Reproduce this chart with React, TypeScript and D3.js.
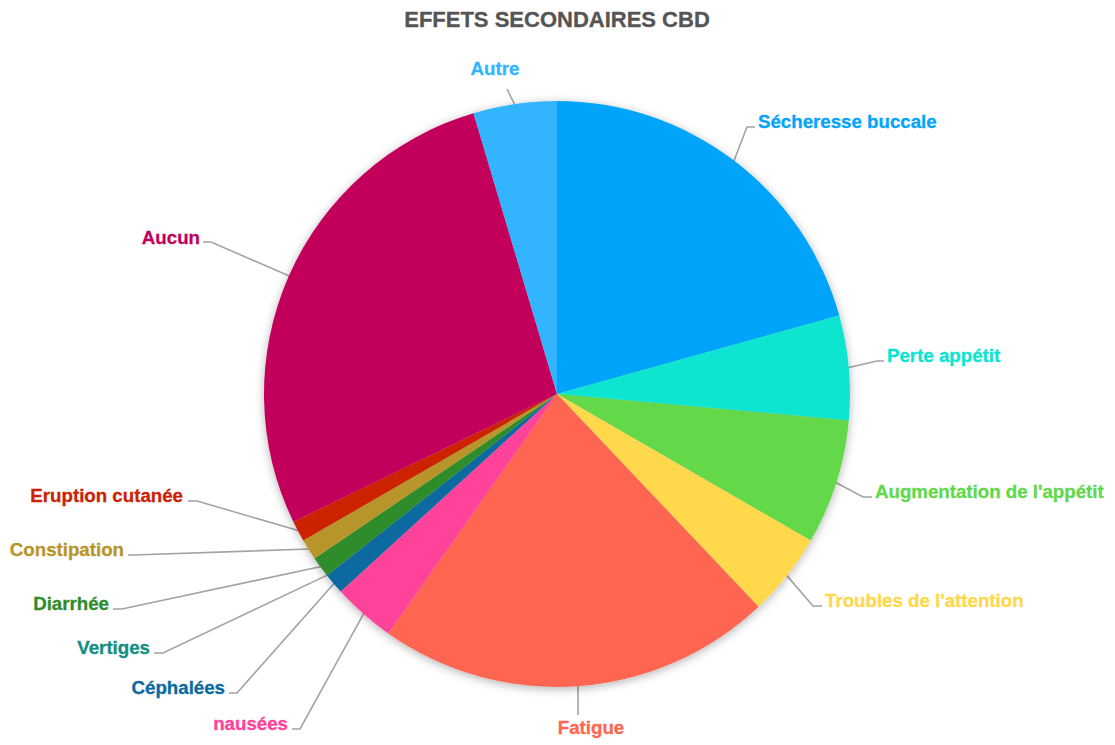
import { useMemo } from 'react';
import * as d3 from 'd3';

const categories = [
  'Sécheresse buccale',
  'Perte appétit',
  "Augmentation de l'appétit",
  "Troubles de l'attention",
  'Fatigue',
  'nausées',
  'Céphalées',
  'Vertiges',
  'Diarrhée',
  'Constipation',
  'Eruption cutanée',
  'Aucun',
  'Autre',
];
const values = [18, 5, 6, 4, 19, 3, 1, 0, 1, 1, 1, 24, 4];
const sliceColors = [
  '#04a5fb', '#0ae5d1', '#63d84a', '#ffd84b', '#ff6651', '#ff429a',
  '#0a6aa1', '#138f7f', '#2f8c2c', '#b8952b', '#cc2105', '#c2005b', '#33b4ff',
];

// label placement: elbow point, end of horizontal stub, text anchor point
type Layout = { ex: number; ey: number; hx: number; tx: number; ty: number; anchor: 'start' | 'end' | 'middle' };
const labelLayout: Layout[] = [
  { ex: 747, ey: 127, hx: 755, tx: 758, ty: 128, anchor: 'start' },
  { ex: 877, ey: 361, hx: 884, tx: 887, ty: 362, anchor: 'start' },
  { ex: 863, ey: 497, hx: 872, tx: 875, ty: 498, anchor: 'start' },
  { ex: 813, ey: 606, hx: 822, tx: 825, ty: 607, anchor: 'start' },
  { ex: 578, ey: 715, hx: 578, tx: 591, ty: 734, anchor: 'middle' },
  { ex: 300, ey: 729, hx: 292, tx: 288, ty: 730, anchor: 'end' },
  { ex: 237, ey: 693, hx: 229, tx: 225, ty: 694, anchor: 'end' },
  { ex: 163, ey: 653, hx: 154, tx: 150, ty: 654, anchor: 'end' },
  { ex: 122, ey: 609, hx: 113, tx: 109, ty: 610, anchor: 'end' },
  { ex: 133, ey: 555, hx: 128, tx: 124, ty: 556, anchor: 'end' },
  { ex: 197, ey: 501, hx: 188, tx: 183, ty: 502, anchor: 'end' },
  { ex: 211, ey: 242, hx: 203, tx: 200, ty: 244, anchor: 'end' },
  { ex: 507, ey: 89, hx: 507, tx: 495, ty: 75, anchor: 'middle' },
];

const W = 1115;
const H = 745;
const cx = 557;
const cy = 394;
const R = 293;

export default function App() {
  const slices = useMemo(() => {
    const pie = d3.pie<number>().sort(null).value(d => d);
    return pie(values);
  }, []);

  const arc = d3.arc<d3.PieArcDatum<number>>().innerRadius(0).outerRadius(R);
  const edge = d3.arc<d3.PieArcDatum<number>>().innerRadius(R - 1).outerRadius(R - 1);

  return (
    <svg
      width={W}
      height={H}
      style={{ position: 'absolute', left: 0, top: 0, background: '#fff' }}
      fontFamily="'Liberation Sans', Arial, Helvetica, sans-serif"
    >
      <defs>
        <filter id="pie-shadow" x="-20%" y="-20%" width="140%" height="140%">
          <feDropShadow dx="0" dy="2" stdDeviation="5" floodColor="#000" floodOpacity="0.3" />
        </filter>
      </defs>

      <text x={cx} y={27} textAnchor="middle" fontSize={22} fontWeight="bold"
        fill="#555" stroke="#555" strokeWidth={0.3}>
        EFFETS SECONDAIRES CBD
      </text>

      {/* leader lines */}
      <g stroke="#a3a3a3" strokeWidth={1.6} fill="none">
        {slices.map((s, i) => {
          const [px, py] = edge.centroid(s);
          const l = labelLayout[i];
          return (
            <polyline
              key={categories[i]}
              points={`${cx + px},${cy + py} ${l.ex},${l.ey} ${l.hx},${l.ey}`}
            />
          );
        })}
      </g>

      <g transform={`translate(${cx},${cy})`} filter="url(#pie-shadow)">
        {slices.map((s, i) => (
          <path key={categories[i]} d={arc(s) ?? ''} fill={sliceColors[i]} />
        ))}
      </g>

      <g fontSize={18.7} fontWeight="bold" strokeWidth={0.3}>
        {categories.map((c, i) => {
          const l = labelLayout[i];
          return (
            <text key={c} x={l.tx} y={l.ty} textAnchor={l.anchor} fill={sliceColors[i]} stroke={sliceColors[i]}>
              {c}
            </text>
          );
        })}
      </g>
    </svg>
  );
}
